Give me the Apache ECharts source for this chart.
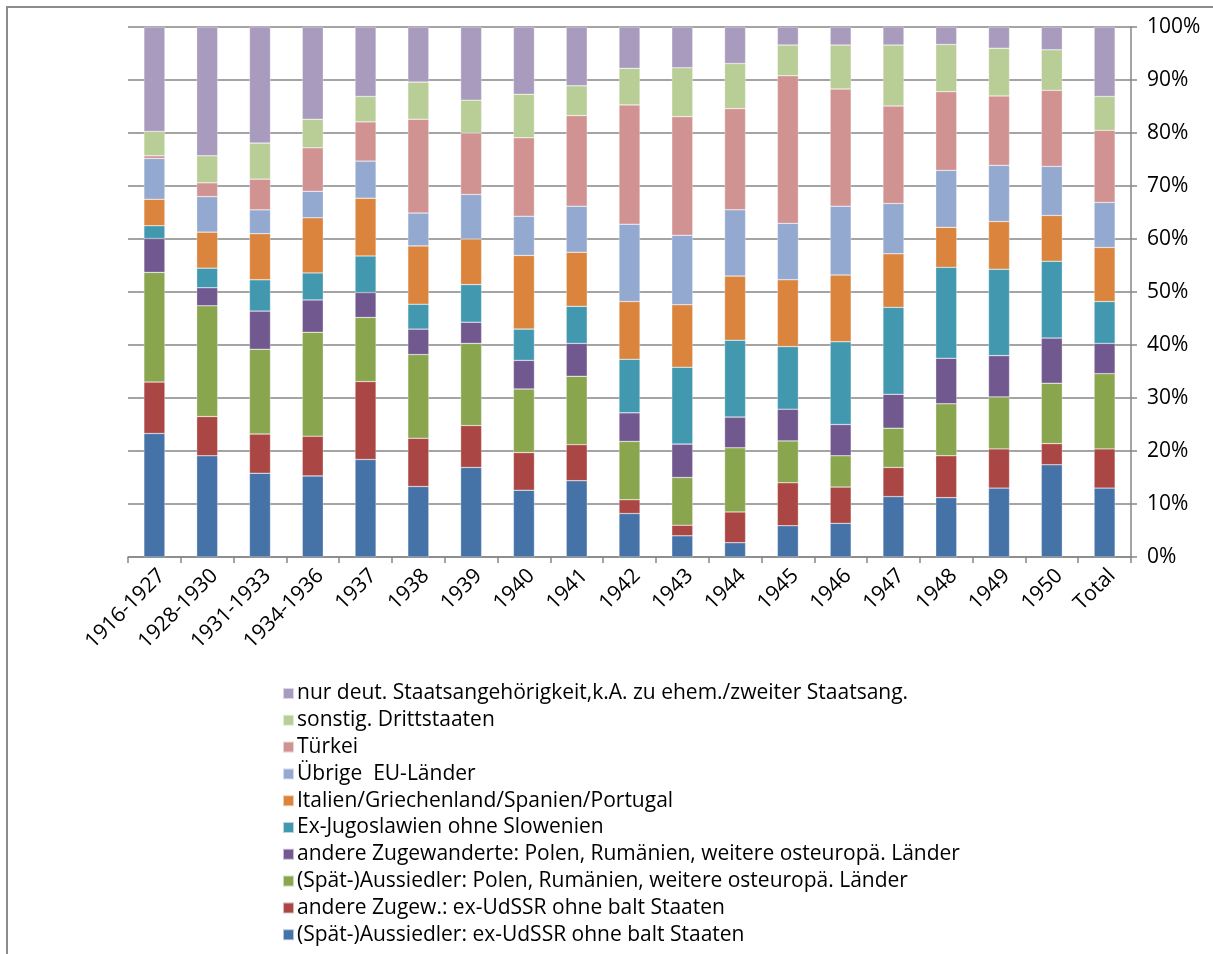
<!DOCTYPE html>
<html>
<head>
<meta charset="utf-8">
<script src="https://cdn.jsdelivr.net/npm/echarts@6/dist/echarts.min.js"></script>
<style>html,body{margin:0;padding:0;background:#fff}#c{width:1213px;height:954px}</style>
</head>
<body>
<div id="c"></div>
<script>
const categories = ['1916-1927','1928-1930','1931-1933','1934-1936','1937','1938','1939','1940','1941','1942','1943','1944','1945','1946','1947','1948','1949','1950','Total'];
const yTickLabels = ['0%','10%','20%','30%','40%','50%','60%','70%','80%','90%','100%'];

const spaetUdSSR   = [23.3,19.1,15.8,15.3,18.4,13.3,16.9,12.6,14.4,8.2,4.0,2.7,5.9,6.35,11.4,11.2,13.0,17.4,13.0];
const andereUdSSR  = [9.7,7.4,7.4,7.5,14.7,9.1,7.9,7.1,6.8,2.6,2.0,5.8,8.1,6.85,5.5,7.9,7.4,4.0,7.4];
const spaetPolen   = [20.7,20.9,16.0,19.6,12.1,15.8,15.5,12.0,12.9,11.0,9.0,12.1,7.9,5.9,7.4,9.8,9.8,11.4,14.2];
const anderePolen  = [6.4,3.4,7.2,6.1,4.7,4.8,4.0,5.4,6.2,5.4,6.3,5.8,6.0,5.9,6.4,8.6,7.8,8.5,5.7];
const exJugo       = [2.4,3.7,5.9,5.1,6.9,4.7,7.1,5.9,7.0,10.1,14.5,14.5,11.8,15.6,16.4,17.15,16.3,14.5,7.9];
const italien      = [5.0,6.8,8.7,10.4,10.9,11.0,8.6,13.9,10.2,10.9,11.8,12.1,12.6,12.6,10.1,7.55,9.0,8.65,10.2];
const uebrigeEU    = [7.7,6.7,4.5,5.0,7.0,6.2,8.4,7.4,8.7,14.6,13.1,12.5,10.65,13.0,9.5,10.75,10.6,9.25,8.5];
const tuerkei      = [0.5,2.6,5.8,8.2,7.4,17.7,11.6,14.8,17.1,22.5,22.4,19.1,27.85,22.1,18.4,14.85,13.1,14.35,13.6];
const drittstaaten = [4.6,5.1,6.8,5.4,4.8,7.0,6.2,8.2,5.6,6.9,9.2,8.5,5.8,8.3,11.5,8.9,9.0,7.65,6.4];
const nurDeut      = [19.7,24.3,21.95,17.4,13.1,10.4,13.8,12.7,11.1,7.8,7.7,6.9,3.4,3.4,3.6,3.3,4.0,4.3,13.1];

const seriesNames = [
  '(Spät-)Aussiedler: ex-UdSSR ohne balt Staaten',
  'andere Zugew.: ex-UdSSR ohne balt Staaten',
  '(Spät-)Aussiedler: Polen, Rumänien, weitere osteuropä. Länder',
  'andere Zugewanderte: Polen, Rumänien, weitere osteuropä. Länder',
  'Ex-Jugoslawien ohne Slowenien',
  'Italien/Griechenland/Spanien/Portugal',
  'Übrige  EU-Länder',
  'Türkei',
  'sonstig. Drittstaaten',
  'nur deut. Staatsangehörigkeit,k.A. zu ehem./zweiter Staatsang.'
];
const seriesData = [spaetUdSSR, andereUdSSR, spaetPolen, anderePolen, exJugo, italien, uebrigeEU, tuerkei, drittstaaten, nurDeut];
const colors = ['#4572A7','#AA4643','#89A54E','#71588F','#4198AF','#DB843D','#93A9CF','#D19392','#B9CD96','#A99BBD'];

const font = "'Open Sans', 'Liberation Sans', sans-serif";
const chart = echarts.init(document.getElementById('c'));
chart.setOption({
  animation: false,
  color: colors,
  graphic: [{
    type: 'polyline',
    shape: { points: [[7, 960], [7, 7], [1220, 7]] },
    style: { stroke: '#8c8c8c', lineWidth: 2, fill: null },
    silent: true
  }],
  grid: { left: 128, right: 82, top: 27, bottom: 397, containLabel: false },
  legend: {
    orient: 'vertical',
    left: 277,
    top: 678,
    itemWidth: 11,
    itemHeight: 11,
    itemGap: 5.8,
    icon: 'rect',
    textStyle: { fontFamily: font, fontSize: 21, lineHeight: 21, color: '#000', padding: [0,0,0,-2] },
    data: seriesNames.slice().reverse()
  },
  xAxis: {
    type: 'category',
    data: categories,
    boundaryGap: true,
    axisLine: { lineStyle: { color: '#868686', width: 1.5 } },
    axisTick: { show: true, length: 6, alignWithLabel: false, lineStyle: { color: '#868686', width: 1.5 } },
    axisLabel: { rotate: 45, interval: 0, fontFamily: font, fontSize: 21, color: '#000', margin: 8,
      align: 'right', verticalAlign: 'top' }
  },
  yAxis: {
    type: 'value',
    position: 'right',
    min: 0, max: 100, interval: 10,
    axisLine: { show: true, lineStyle: { color: '#868686', width: 1.5 } },
    axisTick: { show: true, length: 6, inside: false, lineStyle: { color: '#868686', width: 1.5 } },
    splitLine: { show: true, lineStyle: { color: '#868686', width: 1.5 } },
    axisLabel: { fontFamily: font, fontSize: 21, color: '#000', margin: 16,
      formatter: function (v) { return yTickLabels[Math.round(v / 10)]; } }
  },
  series: seriesData.map(function (d, i) {
    return {
      name: seriesNames[i],
      type: 'bar',
      stack: 'total',
      barWidth: 21,
      data: d,
      itemStyle: { color: colors[i], borderColor: 'rgba(255,255,255,0.6)', borderWidth: 0.5 }
    };
  })
});
</script>
</body>
</html>
